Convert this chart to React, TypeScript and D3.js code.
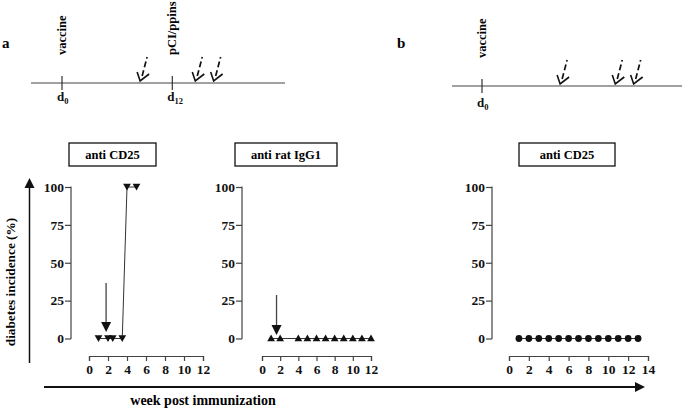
import React, { useEffect, useRef } from 'react';
import * as d3 from 'd3';

const W = 697;
const H = 408;
const FONT = "'Liberation Serif', 'Times New Roman', serif";

const yTicks = [0, 25, 50, 75, 100];
const weekTicksA = [0, 2, 4, 6, 8, 10, 12];
const weekTicksB = [0, 2, 4, 6, 8, 10, 12, 14];

// panel a, anti CD25
const cd25Weeks = [1, 2, 2.5, 3.5, 4, 5];
const cd25Incidence = [0, 0, 0, 0, 100, 100];
// panel a, anti rat IgG1
const igg1Weeks = [1, 2, 4, 5, 6, 7, 8, 9, 10, 11, 12];
const igg1Incidence = [0, 0, 0, 0, 0, 0, 0, 0, 0, 0, 0];
// panel b, anti CD25
const cd25bWeeks = [1, 2, 3, 4, 5, 6, 7, 8, 9, 10, 11, 12, 13];
const cd25bIncidence = [0, 0, 0, 0, 0, 0, 0, 0, 0, 0, 0, 0, 0];

// timelines (days)
const boostDays = [8.5, 14.5, 16.5];

const panels = [
  { title: 'anti CD25', weeks: cd25Weeks, values: cd25Incidence, ticks: weekTicksA, maxWeek: 12,
    axisX: 71, x0: 89, x1: 203, box: [69, 143, 87, 23], symbol: 'down', arrowWeek: 1.8, arrowTop: 283, arrowTip: 332 },
  { title: 'anti rat IgG1', weeks: igg1Weeks, values: igg1Incidence, ticks: weekTicksA, maxWeek: 12,
    axisX: 242, x0: 262, x1: 371, box: [235, 143, 102, 23], symbol: 'up', arrowWeek: 1.6, arrowTop: 295, arrowTip: 335 },
  { title: 'anti CD25', weeks: cd25bWeeks, values: cd25bIncidence, ticks: weekTicksB, maxWeek: 14,
    axisX: 492, x0: 509, x1: 648, box: [519, 143, 96, 23], symbol: 'circle', arrowWeek: null, arrowTop: 0, arrowTip: 0 },
];

const timelines = [
  { label: 'a', labelX: 2, lineY: 83, lineX0: 31, lineX1: 285, d0: 62, marks: [{ day: 0, text: 'vaccine', sub: '0' }, { day: 12, text: 'pCI/ppins', sub: '12' }] },
  { label: 'b', labelX: 397, lineY: 86, lineX0: 452, lineX1: 682, d0: 482, marks: [{ day: 0, text: 'vaccine', sub: '0' }] },
];

function App() {
  const svgRef = useRef(null);

  useEffect(() => {
    const svg = d3.select(svgRef.current);
    svg.selectAll('*').remove();
    svg.attr('font-family', FONT).attr('font-weight', 'bold');

    // timelines
    timelines.forEach(t => {
      const g = svg.append('g');
      const day = d3.scaleLinear().domain([0, 12]).range([t.d0, t.d0 + 110.3]);
      g.append('text').attr('x', t.labelX).attr('y', 48).attr('font-size', 15).text(t.label);
      g.append('line').attr('x1', t.lineX0).attr('x2', t.lineX1).attr('y1', t.lineY).attr('y2', t.lineY)
        .attr('stroke', '#444').attr('stroke-width', 1.2);
      t.marks.forEach(m => {
        const x = day(m.day);
        g.append('line').attr('x1', x).attr('x2', x).attr('y1', t.lineY - 7).attr('y2', t.lineY + 7)
          .attr('stroke', '#333').attr('stroke-width', 1.2);
        const lbl = g.append('text').attr('x', x - 5).attr('y', t.lineY + 18 + (t.label === 'b' ? 3 : 0))
          .attr('font-size', 13).attr('fill', '#111');
        lbl.append('tspan').text('d');
        lbl.append('tspan').attr('font-size', 8.5).attr('dy', 3).text(m.sub);
        g.append('text').attr('transform', `translate(${x + 4},${t.lineY - 28}) rotate(-90)`)
          .attr('font-size', 12.5).text(m.text);
      });
      boostDays.forEach(d => {
        const x = day(d);
        const y = t.lineY - 2;
        g.append('line').attr('x1', x + 2).attr('y1', y - 5).attr('x2', x + 7).attr('y2', y - 24)
          .attr('stroke', '#111').attr('stroke-width', 1.7).attr('stroke-dasharray', '6,3');
        g.append('path').attr('d', `M${x - 3},${y - 9} L${x},${y} L${x + 9},${y - 7}`)
          .attr('fill', 'none').attr('stroke', '#111').attr('stroke-width', 1.6);
      });
    });

    // panels
    panels.forEach(p => {
      const g = svg.append('g');
      const x = d3.scaleLinear().domain([0, p.maxWeek]).range([p.x0, p.x1]);
      const y = d3.scaleLinear().domain([0, 100]).range([338.5, 187]);

      const [bx, by, bw, bh] = p.box;
      g.append('rect').attr('x', bx).attr('y', by).attr('width', bw).attr('height', bh)
        .attr('fill', 'none').attr('stroke', '#111').attr('stroke-width', 1.3);
      g.append('text').attr('x', bx + bw / 2).attr('y', by + bh / 2 + 4.5).attr('text-anchor', 'middle')
        .attr('font-size', 12.5).text(p.title);

      const yAxis = g.append('g').attr('transform', `translate(${p.axisX},0)`)
        .call(d3.axisLeft(y).tickValues(yTicks).tickSize(6).tickPadding(1));
      yAxis.select('.domain').attr('d', `M-0.5,${y(100)}H0V${y(0)}H-0.5`);
      const xAxis = g.append('g').attr('transform', `translate(0,356)`)
        .call(d3.axisBottom(x).tickValues(p.ticks).tickSize(5).tickPadding(3).tickSizeOuter(5));
      [yAxis, xAxis].forEach(a => {
        a.select('.domain').attr('stroke', '#444').attr('stroke-width', 1.2);
        a.selectAll('.tick line').attr('stroke', '#444').attr('stroke-width', 1.2);
        a.selectAll('text').attr('font-family', FONT).attr('font-weight', 'bold').attr('font-size', 13.5).attr('fill', '#111');
      });

      const pts = p.weeks.map((w, i) => [w, p.values[i]]);
      g.append('path').attr('d', d3.line().x(d => x(d[0])).y(d => y(d[1]))(pts))
        .attr('fill', 'none').attr('stroke', '#333').attr('stroke-width', 1);

      const sym = p.symbol === 'circle'
        ? d3.symbol().type(d3.symbolCircle).size(36)
        : d3.symbol().type(d3.symbolTriangle).size(26);
      g.selectAll('.mk').data(pts).enter().append('path')
        .attr('d', sym)
        .attr('transform', d => `translate(${x(d[0])},${y(d[1]) + (p.symbol === 'down' ? -1 : p.symbol === 'up' ? 0.5 : 0)})${p.symbol === 'down' ? ' rotate(180)' : ''}`)
        .attr('fill', '#111');

      if (p.arrowWeek !== null) {
        const ax = x(p.arrowWeek);
        g.append('line').attr('x1', ax).attr('x2', ax).attr('y1', p.arrowTop).attr('y2', p.arrowTip - 9)
          .attr('stroke', '#444').attr('stroke-width', 1.3);
        g.append('path').attr('d', `M${ax - 5},${p.arrowTip - 10} L${ax + 5},${p.arrowTip - 10} L${ax},${p.arrowTip} Z`).attr('fill', '#111');
      }
    });

    // overall axes arrows
    svg.append('line').attr('x1', 29.5).attr('x2', 29.5).attr('y1', 363).attr('y2', 186)
      .attr('stroke', '#111').attr('stroke-width', 1.5);
    svg.append('path').attr('d', 'M24.5,188 L34.5,188 L29.5,178 Z').attr('fill', '#111');
    svg.append('text').attr('transform', 'translate(15,282) rotate(-90)').attr('text-anchor', 'middle')
      .attr('font-size', 13.3).text('diabetes incidence (%)');

    svg.append('line').attr('x1', 44).attr('x2', 636).attr('y1', 387).attr('y2', 387)
      .attr('stroke', '#111').attr('stroke-width', 1.8);
    svg.append('path').attr('d', 'M635,382 L645,387 L635,392 Z').attr('fill', '#111');
    svg.append('text').attr('x', 203).attr('y', 405).attr('text-anchor', 'middle')
      .attr('font-size', 14).text('week post immunization');
  }, []);

  return (
    <svg ref={svgRef} width={W} height={H}
      style={{ position: 'absolute', left: 0, top: 0, background: '#fff', display: 'block' }} />
  );
}

export default App;
